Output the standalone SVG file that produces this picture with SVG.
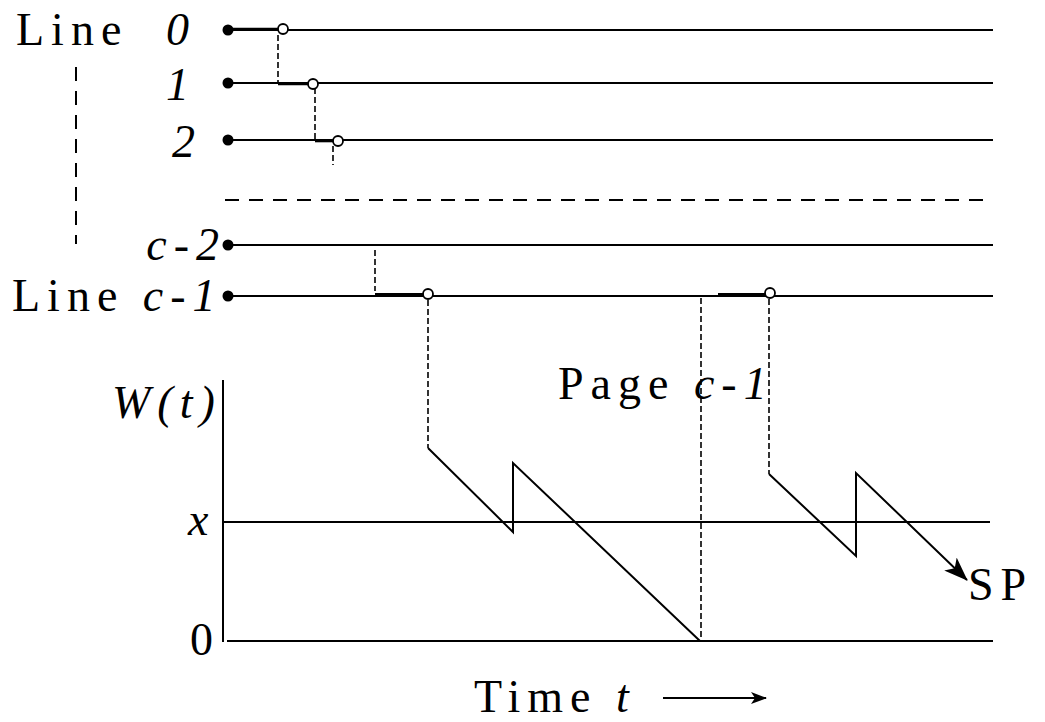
<svg xmlns="http://www.w3.org/2000/svg" width="1045" height="722" viewBox="0 0 1045 722">
<defs>
<style>
.ln{stroke:#000;stroke-width:2;fill:none}
.thk{stroke:#000;stroke-width:2.6;fill:none}
.dsh{stroke:#000;stroke-width:1.6;fill:none;stroke-dasharray:6,3}
.dsl{stroke:#000;stroke-width:2;fill:none;stroke-dasharray:14,10}
.dot{fill:#000}
.oc{fill:#fff;stroke:#000;stroke-width:1.8}
text{font-family:"Liberation Serif","DejaVu Serif","Noto Serif",Times,serif;font-size:46px;fill:#000;letter-spacing:7px}
.i{font-style:italic}
</style>
<marker id="ah" markerWidth="16" markerHeight="12" refX="15" refY="6" orient="auto" markerUnits="userSpaceOnUse" viewBox="0 0 16 12">
<path d="M0,0 L16,6 L0,12 L4,6 Z" fill="#000"/>
</marker>
<marker id="ah2" markerWidth="24" markerHeight="18" refX="23" refY="9" orient="auto" markerUnits="userSpaceOnUse" viewBox="0 0 24 18">
<path d="M0,0 L24,9 L0,18 L6,9 Z" fill="#000"/>
</marker>
</defs>
<rect width="1045" height="722" fill="#fff"/>

<!-- labels -->
<g id="labels">
<text x="16" y="45">Line</text>
<text x="166" y="45" class="i">0</text>
<text x="166" y="100" class="i">1</text>
<text x="172" y="157" class="i">2</text>
<text x="226" y="260" text-anchor="end" class="i">c-2</text>
<text x="12" y="311">Line <tspan class="i">c-1</tspan></text>
<text x="112" y="418" class="i">W(t)</text>
<text x="188" y="535" class="i">x</text>
<text x="190" y="655">0</text>
<text x="558" y="399">Page <tspan class="i">c-1</tspan></text>
<text x="968" y="600">SP</text>
<text x="474" y="712">Time <tspan class="i">t</tspan></text>
</g>

<!-- service lines -->
<g id="line0">
<circle class="dot" cx="228" cy="30" r="5.5"/>
<line class="ln" x1="228" y1="30" x2="993" y2="30"/>
</g>
<g id="line1">
<circle class="dot" cx="228" cy="83" r="5.5"/>
<line class="ln" x1="228" y1="83" x2="993" y2="83"/>
</g>
<g id="line2">
<circle class="dot" cx="228" cy="140" r="5.5"/>
<line class="ln" x1="228" y1="140" x2="993" y2="140"/>
</g>
<g id="lineC2">
<circle class="dot" cx="228" cy="245" r="5.5"/>
<line class="ln" x1="228" y1="245" x2="993" y2="245"/>
</g>
<g id="lineC1">
<circle class="dot" cx="228" cy="296" r="5.5"/>
<line class="ln" x1="228" y1="296" x2="993" y2="296"/>
</g>

<!-- workload axes -->
<g id="axes">
<line class="ln" x1="223" y1="380" x2="223" y2="642"/>
<line class="ln" x1="223" y1="522" x2="990" y2="522"/>
<line class="ln" x1="227" y1="641" x2="993" y2="641"/>
</g>

<g id="connectors">
<!-- separators -->
<line class="dsl" x1="76" y1="67" x2="76" y2="244"/>
<line class="dsl" x1="225" y1="200" x2="993" y2="200"/>

<!-- hand-over steps between lines -->
<line class="thk" x1="228" y1="29" x2="283" y2="29"/>
<line class="dsh" x1="278" y1="35" x2="278" y2="83"/>
<line class="thk" x1="278" y1="84" x2="313" y2="84"/>
<line class="dsh" x1="315" y1="88" x2="315" y2="140"/>
<line class="thk" x1="315" y1="141" x2="338" y2="141"/>
<line class="dsh" x1="333" y1="146" x2="333" y2="165"/>

<line class="dsh" x1="375" y1="250" x2="375" y2="291"/>
<line class="ln" x1="375" y1="294" x2="428" y2="294" stroke="#666"/>
<line class="dsh" x1="428" y1="300" x2="428" y2="448"/>

<line class="dsh" x1="701" y1="298" x2="701" y2="641"/>
<line class="ln" x1="718" y1="294" x2="770" y2="294" stroke="#666"/>
<line class="dsh" x1="769" y1="299" x2="769" y2="474"/>

<!-- workload sawtooth -->
<polyline class="ln" points="428,448 513,532 513,463 700,641"/>
<polyline class="ln" points="769,474 856,556 856,473 967,580" marker-end="url(#ah2)"/>

<!-- time arrow -->
<line class="ln" x1="663" y1="698" x2="766" y2="698" marker-end="url(#ah)"/>
</g>

<g id="marks">
<circle class="oc" cx="283" cy="29" r="5"/>
<circle class="oc" cx="313" cy="84" r="5"/>
<circle class="oc" cx="338" cy="141" r="5"/>
<circle class="oc" cx="428" cy="294" r="5"/>
<circle class="oc" cx="770" cy="293" r="5"/>
</g>
</svg>
